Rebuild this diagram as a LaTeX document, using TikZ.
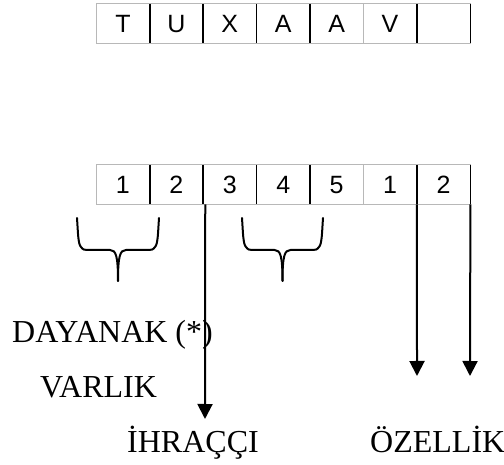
\documentclass[tikz,border=0pt]{standalone}
\usepackage{fontspec}
\setmainfont{Liberation Serif}
\newfontfamily\cellfont{Liberation Sans}
\usetikzlibrary{arrows.meta}
\begin{document}
\begin{tikzpicture}[x=1pt,y=-1pt,
  cell/.style={minimum width=53.43pt,minimum height=39pt,inner sep=0pt,font=\cellfont\fontsize{25}{25}\selectfont,anchor=north west,text depth=0pt},
  lbl/.style={font=\fontsize{32}{36}\selectfont,inner sep=0pt,anchor=base west},
  lightline/.style={draw=black!28,line width=1pt},
  darkline/.style={draw=black,line width=1.6pt},
  arr/.style={draw=black,line width=2pt,-{Triangle[width=15pt,length=15pt]}},
  bracestyle/.style={draw=black,line width=2pt,line cap=round}]
\useasboundingbox (0,0) rectangle (504,465);
% top row
\foreach \t [count=\i] in {T,U,X,A,A,V,{}} {
  \node[cell] (t\i) at ({96+53.43*(\i-1)},4) {\t};
}
% bottom row
\foreach \t [count=\i] in {1,2,3,4,5,1,2} {
  \node[cell] (b\i) at ({96+53.43*(\i-1)},165) {\t};
}
% outlines
\draw[lightline] (t1.north west) rectangle (t7.south east);
\draw[lightline] (b1.north west) rectangle (b7.south east);
\foreach \r in {t,b} {
  \foreach \i in {1,2,3,4,6,7} {
    \draw[darkline] (\r\i.north east) -- (\r\i.south east);
  }
  \draw[lightline] (\r5.north east) -- (\r5.south east);
}
% braces
\foreach \L/\R in {78/158,243/322} {
  \pgfmathsetmacro{\C}{(\L+\R)/2}
  \draw[bracestyle] (\L-1,218) .. controls (\L,232) and (\L,244) .. (\L+3,247)
     .. controls (\L+5,250) and (\L+7,250) .. (\L+10,250) -- (\C-8,250)
     .. controls (\C-2,250) and (\C,256) .. (\C,281);
  \draw[bracestyle] (\R+1,218) .. controls (\R,232) and (\R,244) .. (\R-3,247)
     .. controls (\R-5,250) and (\R-7,250) .. (\R-10,250) -- (\C+8,250)
     .. controls (\C+2,250) and (\C,256) .. (\C,281);
}
% labels
\node[lbl] (dayanak) at (12,343) {DAYANAK (*)};
\node[lbl] (varlik) at (40,398) {VARLIK};
\node[lbl] (ihracci) at (127,452) {İHRAÇÇI};
\node[lbl] (ozellik) at (370,452) {ÖZELLİK};
% arrows
\coordinate (e1) at (205,419);
\coordinate (e2) at (417,376);
\coordinate (e3) at (470,376);
\draw[arr] ([xshift=2pt]b2.south east) -- (e1);
\draw[arr] (b6.south east) -- (e2);
\draw[arr] (b7.south east) -- (e3);
\end{tikzpicture}
\end{document}
